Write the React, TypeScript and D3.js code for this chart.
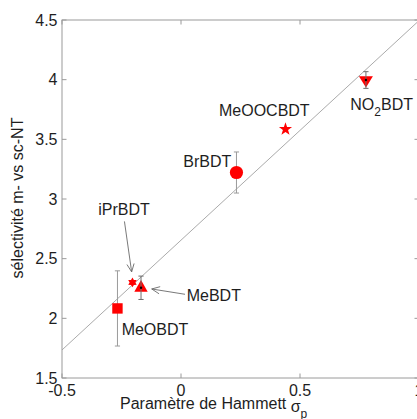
import React from "react";
import * as d3 from "d3";

// ---- data ----
const compounds = ["MeOBDT", "iPrBDT", "MeBDT", "BrBDT", "MeOOCBDT", "NO2BDT"];
const sigmaP = [-0.267, -0.204, -0.168, 0.233, 0.439, 0.777];
const selectivity = [2.083, 2.301, 2.256, 3.222, 3.585, 3.997];
const errorHalf = [0.315, 0, 0.098, 0.172, 0, 0.07];
const markerKinds = ["square", "hexagram", "triangleUp", "circle", "star", "triangleDown"];
const fitX = [-0.5, 1.0];
const fitY = [1.735, 4.495];
const xTicks = [-0.5, 0, 0.5, 1];
const yTicks = [1.5, 2, 2.5, 3, 3.5, 4, 4.5];

const W = 417;
const H = 419;
const FONT = "'Liberation Sans', Arial, Helvetica, sans-serif";
const AXIS = "#9a9a9a";
const TEXT = "#1e1e1e";
const RED = "#ff0000";

function polyPath(n: number, R: number, r: number, rot: number) {
  const pts: [number, number][] = [];
  for (let i = 0; i < 2 * n; i++) {
    const rad = i % 2 === 0 ? R : r;
    const a = rot + (i * Math.PI) / n;
    pts.push([rad * Math.sin(a), -rad * Math.cos(a)]);
  }
  return d3.line()(pts) + "Z";
}

function markerPath(kind: string) {
  switch (kind) {
    case "square":
      return "M-5.2,-5.2H5.2V5.2H-5.2Z";
    case "circle":
      return d3.symbol(d3.symbolCircle, Math.PI * 6.6 * 6.6)() as string;
    case "star":
      return polyPath(5, 6.9, 2.7, 0);
    case "hexagram":
      return polyPath(6, 4.9, 2.85, 0);
    case "triangleUp":
      return "M0,-7.8L6.7,3.9L-6.7,3.9Z";
    case "triangleDown":
      return "M0,7.5L7,-3.8L-7,-3.8Z";
  }
  return "";
}

const labelOffsets: Record<string, [number, number]> = {
  MeOBDT: [4.2, 26.6],
  iPrBDT: [-34.2, -67.4],
  MeBDT: [45.7, 12.9],
  BrBDT: [-53.2, -5.5],
  MeOOCBDT: [-66.5, -13.5],
  NO2BDT: [-15.6, 29.7],
};

const arrows: Record<string, [number, number, number, number]> = {
  iPrBDT: [-8, -61, -0.8, -10.5],
  MeBDT: [44, 6.5, 10.7, 1.2],
};

export default function App() {
  const x = d3.scaleLinear().domain([-0.5, 1]).range([62, 419]);
  const y = d3.scaleLinear().domain([1.5, 4.5]).range([378, 20]);
  const [x0, x1] = x.range();
  const [y0, y1] = y.range();
  const tickLen = 4.5;

  const fitPts = fitX.map((v, i) => [x(v), y(fitY[i])] as [number, number]);

  return (
    <svg
      width={W}
      height={H}
      style={{ position: "absolute", left: 0, top: 0, background: "#fff" }}
      fontFamily={FONT}
    >
      <defs>
        <clipPath id="plot">
          <rect x={x0} y={y1} width={x1 - x0} height={y0 - y1} />
        </clipPath>
      </defs>
      <rect width={W} height={H} fill="#fff" />

      {/* frame */}
      <rect x={x0} y={y1} width={x1 - x0} height={y0 - y1} fill="none" stroke={AXIS} strokeWidth={1} />

      {/* x ticks */}
      {xTicks.map((t) => (
        <g key={"xt" + t}>
          <line x1={x(t)} x2={x(t)} y1={y0} y2={y0 - tickLen} stroke={AXIS} />
          <line x1={x(t)} x2={x(t)} y1={y1} y2={y1 + tickLen} stroke={AXIS} />
          <text x={x(t)} y={396} textAnchor="middle" fontSize={16} fill={TEXT}>
            {t === 0 ? "0" : String(t)}
          </text>
        </g>
      ))}
      {/* y ticks */}
      {yTicks.map((t) => (
        <g key={"yt" + t}>
          <line x1={x0} x2={x0 + tickLen} y1={y(t)} y2={y(t)} stroke={AXIS} />
          <line x1={x1} x2={x1 - tickLen} y1={y(t)} y2={y(t)} stroke={AXIS} />
          <text x={57.5} y={y(t) + 5.8} textAnchor="end" fontSize={16} fill={TEXT}>
            {String(t)}
          </text>
        </g>
      ))}

      {/* fit line */}
      <path
        d={d3.line()(fitPts) as string}
        stroke="#a0a0a0"
        strokeWidth={0.9}
        fill="none"
        clipPath="url(#plot)"
      />

      {/* points */}
      {compounds.map((c, i) => {
        const px = x(sigmaP[i]);
        const py = y(selectivity[i]);
        const e = errorHalf[i];
        const kind = markerKinds[i];
        const bar =
          e > 0 ? (
            <g stroke={kind.startsWith("triangle") ? "#6e6e6e" : AXIS} strokeWidth={1}>
              <line x1={px} x2={px} y1={y(selectivity[i] + e)} y2={y(selectivity[i] - e)} />
              <line x1={px - 2.6} x2={px + 2.6} y1={y(selectivity[i] + e)} y2={y(selectivity[i] + e)} />
              <line x1={px - 2.6} x2={px + 2.6} y1={y(selectivity[i] - e)} y2={y(selectivity[i] - e)} />
            </g>
          ) : null;
        const marker = (
          <path d={markerPath(kind)} transform={`translate(${px},${py})`} fill={RED} stroke="none" />
        );
        const onTop = kind.startsWith("triangle");
        const [ldx, ldy] = labelOffsets[c];
        const arrow = arrows[c];
        let arrowEl = null;
        if (arrow) {
          const ax0 = px + arrow[0];
          const ay0 = py + arrow[1];
          const ax1 = px + arrow[2];
          const ay1 = py + arrow[3];
          const ang = Math.atan2(ay1 - ay0, ax1 - ax0);
          const hl = 8;
          const hw = 3.6;
          const bx = ax1 - hl * Math.cos(ang);
          const by = ay1 - hl * Math.sin(ang);
          const nx = -Math.sin(ang);
          const ny = Math.cos(ang);
          arrowEl = (
            <g stroke="#6a6a6a" strokeWidth={0.9} fill="none">
              <line x1={ax0} y1={ay0} x2={ax1} y2={ay1} />
              <path d={`M${bx + nx * hw},${by + ny * hw}L${ax1},${ay1}L${bx - nx * hw},${by - ny * hw}`} />
            </g>
          );
        }
        return (
          <g key={c}>
            {onTop ? marker : bar}
            {onTop ? bar : marker}
            {onTop && <circle cx={px} cy={py} r={1.2} fill="#000" />}
            {arrowEl}
            {c === "NO2BDT" ? (
              <text x={px + ldx} y={py + ldy} fontSize={16} fill={TEXT}>
                NO
                <tspan dy={6} fontSize={12}>2</tspan>
                <tspan dy={-6} fontSize={16}>BDT</tspan>
              </text>
            ) : (
              <text x={px + ldx} y={py + ldy} fontSize={16} fill={TEXT}>
                {c}
              </text>
            )}
          </g>
        );
      })}

      {/* axis labels */}
      <text x={120} y={409} fontSize={16} fill={TEXT}>
        {"Paramètre de Hammett "}
        <tspan dy={3}>σ</tspan>
        <tspan dy={6} fontSize={12}>p</tspan>
      </text>
      <text
        transform={`translate(22.5,198) rotate(-90)`}
        textAnchor="middle"
        fontSize={16}
        fill={TEXT}
      >
        sélectivité m- vs sc-NT
      </text>
    </svg>
  );
}
